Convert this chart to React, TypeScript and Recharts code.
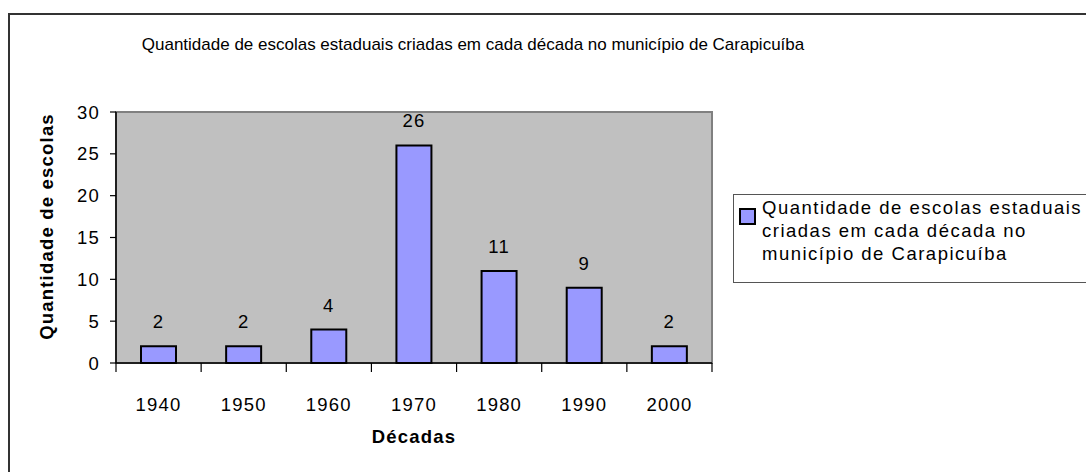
import React from "react"
import {
  BarChart,
  Bar,
  XAxis,
  YAxis,
  ReferenceArea,
  LabelList,
  Legend,
} from "recharts"

const decades = ["1940", "1950", "1960", "1970", "1980", "1990", "2000"]
const schools = [2, 2, 4, 26, 11, 9, 2]
const yTicks = [0, 5, 10, 15, 20, 25, 30]

const chartTitle =
  "Quantidade de escolas estaduais criadas em cada década no município de Carapicuíba"
const seriesName =
  "Quantidade de escolas estaduais criadas em cada década no município de Carapicuíba"
const xTitle = "Décadas"
const yTitle = "Quantidade de escolas"

const data = decades.map((d, i) => ({ decada: d, escolas: schools[i] }))

const FONT = "'Liberation Sans', Arial, sans-serif"
const FS = 18.5
const LS = 1.2

function XTick(props: any) {
  const { x, y, payload, index } = props
  const half = payload.offset || 42.6
  const y0 = y - 34
  return (
    <g>
      <line x1={x - half} x2={x - half} y1={y0} y2={y0 + 9} stroke="#000" strokeWidth={1.2} />
      {index === decades.length - 1 && (
        <line x1={x + half} x2={x + half} y1={y0} y2={y0 + 9} stroke="#000" strokeWidth={1.2} />
      )}
      <text
        x={x}
        y={y + 14}
        textAnchor="middle"
        fill="#000"
        fontSize={FS}
        fontFamily={FONT}
        letterSpacing={LS}
      >
        {payload.value}
      </text>
    </g>
  )
}

function YTitle(props: any) {
  const vb = props.viewBox || { y: 112, height: 251 }
  const cx = 46
  const cy = vb.y + vb.height / 2 - 11
  return (
    <text
      x={cx}
      y={cy}
      transform={`rotate(-90 ${cx} ${cy})`}
      textAnchor="middle"
      dominantBaseline="central"
      fontWeight="bold"
      fontSize={FS}
      fontFamily={FONT}
      letterSpacing={LS}
      fill="#000"
    >
      {yTitle}
    </text>
  )
}

function LegendBox() {
  return (
    <div
      style={{
        position: "relative",
        width: 400,
        height: 89,
        boxSizing: "border-box",
        border: "1px solid #555",
        background: "#fff",
        fontFamily: FONT,
        fontSize: FS,
        letterSpacing: 1.5,
        color: "#000",
      }}
    >
      <div
        style={{
          position: "absolute",
          left: 5,
          top: 13,
          width: 13,
          height: 13,
          background: "#9999ff",
          border: "2px solid #000",
        }}
      />
      <div
        style={{
          position: "absolute",
          left: 28,
          top: 1,
          width: 345,
          lineHeight: "23px",
          textAlign: "left",
        }}
      >
        {seriesName}
      </div>
    </div>
  )
}

export default function App() {
  return (
    <div
      style={{
        position: "absolute",
        left: 0,
        top: 0,
        width: 1086,
        height: 472,
        overflow: "hidden",
        background: "#fff",
      }}
    >
      {/* chart frame, cut off at right and bottom like the source */}
      <div
        style={{
          position: "absolute",
          left: 8,
          top: 13,
          width: 1200,
          height: 600,
          border: "2px solid #333",
        }}
      />
      <div
        style={{
          position: "absolute",
          left: 0,
          top: 34,
          width: 946,
          textAlign: "center",
          fontFamily: FONT,
          fontSize: 17,
          lineHeight: "22px",
          color: "#000",
        }}
      >
        {chartTitle}
      </div>
      <div style={{ position: "absolute", left: 0, top: 0 }}>
        <BarChart
          width={1086}
          height={472}
          data={data}
          margin={{ top: 112, right: 374, bottom: 19, left: 0 }}
          barSize={35}
        >
          <ReferenceArea
            x1="1940"
            x2="2000"
            y1={0}
            y2={30}
            fill="#c0c0c0"
            fillOpacity={1}
            stroke="#808080"
            strokeWidth={2}
            ifOverflow="visible"
          />
          <XAxis
            dataKey="decada"
            height={90}
            axisLine={{ stroke: "#000", strokeWidth: 1.5 }}
            tickLine={false}
            tickSize={9}
            tickMargin={25}
            tick={<XTick />}
            interval={0}
            label={{
              value: xTitle,
              position: "insideTop",
              offset: 67,
              fill: "#000",
              fontWeight: "bold",
              fontSize: FS,
              fontFamily: FONT,
              letterSpacing: LS,
            }}
          />
          <YAxis
            width={116}
            domain={[0, 30]}
            ticks={yTicks}
            interval={0}
            axisLine={{ stroke: "#000", strokeWidth: 1.5 }}
            tickLine={{ stroke: "#000", strokeWidth: 1.2 }}
            tickSize={6}
            tickMargin={10}
            tick={{ fill: "#000", fontSize: FS, fontFamily: FONT, letterSpacing: LS }}
            label={{ content: <YTitle /> }}
          />
          <Legend
            layout="horizontal"
            verticalAlign="middle"
            align="center"
            content={<LegendBox />}
            wrapperStyle={{ left: 733, top: 194, right: "auto", bottom: "auto", width: 400 }}
          />
          <Bar
            dataKey="escolas"
            name={seriesName}
            fill="#9999ff"
            stroke="#000"
            strokeWidth={2}
            isAnimationActive={false}
          >
            <LabelList
              dataKey="escolas"
              position="top"
              offset={18}
              fill="#000"
              fontSize={FS}
              fontFamily={FONT}
              letterSpacing={LS}
            />
          </Bar>
        </BarChart>
      </div>
    </div>
  )
}
